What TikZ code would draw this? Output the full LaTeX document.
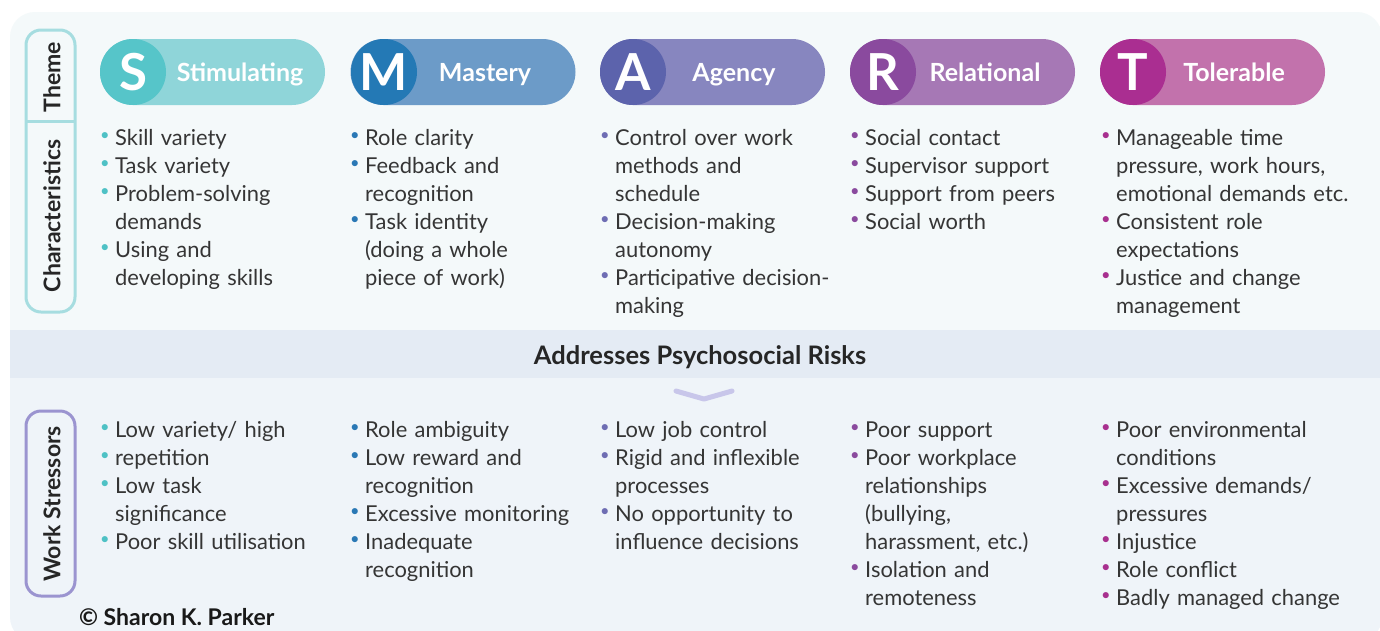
\documentclass[tikz,border=0pt]{standalone}
\usepackage{fontspec}
\setmainfont{Lato}
\definecolor{topbg}{HTML}{F4F9FA}
\definecolor{midbg}{HTML}{E4EBF4}
\definecolor{botbg}{HTML}{EFF4F9}
\definecolor{txt}{HTML}{353535}
\definecolor{sC}{HTML}{56C5C9}\definecolor{sP}{HTML}{8FD5D9}\definecolor{sB}{HTML}{4EC1C5}
\definecolor{mC}{HTML}{2479B5}\definecolor{mP}{HTML}{6C9BC8}\definecolor{mB}{HTML}{2A78B5}
\definecolor{aC}{HTML}{5C63AC}\definecolor{aP}{HTML}{8786BF}\definecolor{aB}{HTML}{6E6DB3}
\definecolor{rC}{HTML}{8A4A9E}\definecolor{rP}{HTML}{A678B5}\definecolor{rB}{HTML}{8A4A9E}
\definecolor{tC}{HTML}{AA2E91}\definecolor{tP}{HTML}{C272AC}\definecolor{tB}{HTML}{A8308F}
\definecolor{teallbl}{HTML}{A6DDE0}
\definecolor{purplbl}{HTML}{9B94D0}
\definecolor{chevc}{HTML}{C8C6EA}
\newcommand\bl[1]{\makebox[15pt][l]{\textcolor{#1}{\raisebox{0.2em}{\scalebox{0.75}{\textbullet}}}}}
\newcommand\ind{\hspace*{15pt}}
\tikzset{
  pill/.style={rectangle, rounded corners=33pt, minimum width=225pt, minimum height=66pt, inner sep=0pt, draw=none},
  circ/.style={circle, minimum size=66pt, inner sep=0pt, text=white, font=\fontsize{51}{51}\selectfont\bfseries},
  plabel/.style={anchor=base, text=white, inner sep=0pt, font=\fontsize{25}{28}\selectfont\bfseries},
  list/.style={anchor=base west, inner sep=0pt, text width=260pt, align=left, text=txt, font=\fontsize{21.9}{28}\selectfont},
  sidelbl/.style={rotate=90, inner sep=0pt, text=black!85, font=\fontsize{23}{26}\selectfont\bfseries},
  sidebox/.style={line width=3pt, rounded corners=15pt},
}
\begin{document}
\begin{tikzpicture}[x=1pt,y=-1pt]
\useasboundingbox (0,0) rectangle (1380,630);
\fill[white] (0,0) rectangle (1380,630);
\begin{scope}
  \clip[rounded corners=25pt] (10,12) rectangle (1382,642);
  \fill[topbg] (0,0) rectangle (1400,330);
  \fill[midbg] (0,330) rectangle (1400,378);
  \fill[botbg] (0,378) rectangle (1400,650);
\end{scope}

% side labels
\draw[sidebox, draw=teallbl] (26,30) rectangle (75,312);
\draw[draw=teallbl, line width=3pt] (26,121) -- (75,121);
\node[sidelbl] (lTheme) at (52,77) {Theme};
\node[sidelbl] (lChar) at (52,216) {Characteristics};
\draw[sidebox, draw=purplbl] (26,411) rectangle (75,596);
\node[sidelbl] (lWork) at (52,504) {Work Stressors};

% pills
\node[pill, fill=sP] (pS) at (212.5,72) {};
\node[circ, fill=sC] (cS) at (133,72) {S};
\node[plabel] (lS) at (240,81) {Stimulating};
\node[pill, fill=mP] (pM) at (463,72) {};
\node[circ, fill=mC] (cM) at (384,72) {M};
\node[plabel] (lM) at (485,81) {Mastery};
\node[pill, fill=aP] (pA) at (712.5,72) {};
\node[circ, fill=aC] (cA) at (633,72) {A};
\node[plabel] (lA) at (734,81) {Agency};
\node[pill, fill=rP] (pR) at (962.5,72) {};
\node[circ, fill=rC] (cR) at (883,72) {R};
\node[plabel] (lR) at (985,81) {Relational};
\node[pill, fill=tP] (pT) at (1212.5,72) {};
\node[circ, fill=tC] (cT) at (1133,72) {T};
\node[plabel] (lT) at (1234,81) {Tolerable};

% characteristics
\node[list] (chS) at (100,145) {\bl{sB}Skill variety\\\bl{sB}Task variety\\\bl{sB}Problem-solving\\\ind demands\\\bl{sB}Using and\\\ind developing skills};
\node[list] (chM) at (350,145) {\bl{mB}Role clarity\\\bl{mB}Feedback and\\\ind recognition\\\bl{mB}Task identity\\\ind (doing a whole\\\ind piece of work)};
\node[list] (chA) at (600,145) {\bl{aB}Control over work\\\ind methods and\\\ind schedule\\\bl{aB}Decision-making\\\ind autonomy\\\bl{aB}Participative decision-\\\ind making};
\node[list] (chR) at (850,145) {\bl{rB}Social contact\\\bl{rB}Supervisor support\\\bl{rB}Support from peers\\\bl{rB}Social worth};
\node[list] (chT) at (1101,145) {\bl{tB}Manageable time\\\ind pressure, work hours,\\\ind emotional demands etc.\\\bl{tB}Consistent role\\\ind expectations\\\bl{tB}Justice and change\\\ind management};

% middle band
\node[anchor=base, inner sep=0pt, text=black!85, font=\fontsize{25.5}{28}\selectfont\bfseries] (risk) at (700,364) {Addresses Psychosocial Risks};
\coordinate (cv1) at (676,391);
\coordinate (cv2) at (704,399);
\coordinate (cv3) at (732,391);
\draw[chevc, line width=5pt, line cap=round, line join=round] (cv1) -- (cv2) -- (cv3);

% stressors
\node[list] (stS) at (100,437) {\bl{sB}Low variety/ high\\\bl{sB}repetition\\\bl{sB}Low task\\\ind significance\\\bl{sB}Poor skill utilisation};
\node[list] (stM) at (350,437) {\bl{mB}Role ambiguity\\\bl{mB}Low reward and\\\ind recognition\\\bl{mB}Excessive monitoring\\\bl{mB}Inadequate\\\ind recognition};
\node[list] (stA) at (600,437) {\bl{aB}Low job control\\\bl{aB}Rigid and inflexible\\\ind processes\\\bl{aB}No opportunity to\\\ind influence decisions};
\node[list] (stR) at (850,437) {\bl{rB}Poor support\\\bl{rB}Poor workplace\\\ind relationships\\\ind (bullying,\\\ind harassment, etc.)\\\bl{rB}Isolation and\\\ind remoteness};
\node[list] (stT) at (1101,437) {\bl{tB}Poor environmental\\\ind conditions\\\bl{tB}Excessive demands/\\\ind pressures\\\bl{tB}Injustice\\\bl{tB}Role conflict\\\bl{tB}Badly managed change};

\node[anchor=base west, inner sep=0pt, text=black!90, font=\fontsize{23}{26}\selectfont\bfseries] (copy) at (79,625) {© Sharon K. Parker};
\end{tikzpicture}
\end{document}
